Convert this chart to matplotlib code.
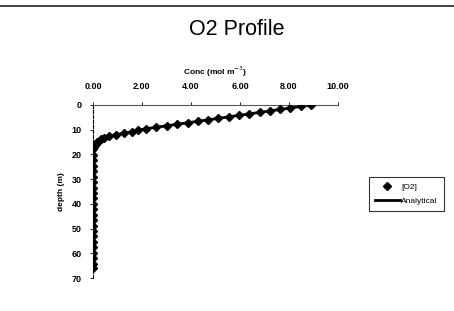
import matplotlib
matplotlib.use("Agg")
import matplotlib.pyplot as plt

plt.rcParams['font.family'] = ['Liberation Sans', 'DejaVu Sans']

# Observed [O2] profile (depth in m, concentration in mol m^-3)
depth = [0.0, 0.6, 1.2, 1.8, 2.4, 3.0, 3.6, 4.2, 4.8, 5.4, 6.0, 6.6, 7.2, 7.8,
         8.4, 9.0, 9.6, 10.2, 10.8, 11.4, 12.0, 12.6, 13.2, 13.8, 14.4, 15.0,
         15.6, 16.2, 16.8, 17.4, 18.0, 20.2, 22.4, 24.6, 26.8, 29.0, 31.2,
         33.4, 35.6, 37.8, 40.0, 42.2, 44.4, 46.6, 48.8, 51.0, 53.2, 55.4,
         57.6, 59.8, 62.0, 64.2, 66.0]
conc = [8.90, 8.48, 8.06, 7.64, 7.22, 6.80, 6.38, 5.96, 5.54, 5.12, 4.70, 4.28,
        3.86, 3.44, 3.02, 2.58, 2.18, 1.84, 1.60, 1.28, 0.94, 0.66, 0.44, 0.32,
        0.24, 0.18, 0.13, 0.08, 0.05, 0.02, 0.01, 0.0, 0.0, 0.0, 0.0, 0.0, 0.0,
        0.0, 0.0, 0.0, 0.0, 0.0, 0.0, 0.0, 0.0, 0.0, 0.0, 0.0, 0.0, 0.0,
        0.0, 0.0, 0.0]

xticks = [0, 2, 4, 6, 8, 10]
xticklabels = ["0.00", "2.00", "4.00", "6.00", "8.00", "10.00"]
yticks = [0, 10, 20, 30, 40, 50, 60, 70]

fig = plt.figure(figsize=(4.54, 3.11), dpi=100)
fig.patch.set_facecolor('white')

# frame remnant of the chart area
fig.add_artist(plt.Line2D([0.0, 1.0], [0.982, 0.982], color='#222222', lw=1.2,
                          transform=fig.transFigure))

ax = fig.add_axes([0.2048, 0.1061, 0.5397, 0.5563])
ax.plot(conc, depth, color='black', lw=2.0, label='Analytical', zorder=2)
ax.plot(conc, depth, linestyle='none', marker='D', markersize=4.0,
        color='black', label='[O2]', zorder=3)

ax.set_xlim(0, 10)
ax.set_ylim(70, 0)
ax.xaxis.tick_top()
ax.xaxis.set_label_position('top')
ax.set_xticks(xticks)
ax.set_xticklabels(xticklabels)
ax.set_yticks(yticks)
ax.tick_params(axis='both', labelsize=6.5, length=2, width=0.6)
ax.tick_params(axis='x', pad=8)
ax.tick_params(axis='y', pad=6)
for lab in ax.get_xticklabels() + ax.get_yticklabels():
    lab.set_fontweight('bold')
ax.spines['right'].set_visible(False)
ax.spines['bottom'].set_visible(False)
ax.spines['top'].set_color('#555555')
ax.spines['top'].set_linewidth(0.8)
ax.spines['left'].set_linestyle((0, (3, 1.5)))
ax.spines['left'].set_linewidth(0.8)
ax.set_xlabel('Conc (mol m$^{-3}$)', fontsize=6.0, fontweight='bold', labelpad=5)
ax.set_ylabel('depth (m)', fontsize=6.0, fontweight='bold', labelpad=5)

fig.text(0.522, 0.904, 'O2 Profile', ha='center', va='center', fontsize=15.5)

handles, labels = ax.get_legend_handles_labels()
leg = fig.legend(handles[::-1], labels[::-1], loc='center',
                 bbox_to_anchor=(0.895, 0.376), fontsize=6.0, frameon=True,
                 fancybox=False, edgecolor='black', handlelength=3.0,
                 handletextpad=0.2, borderpad=0.7, labelspacing=0.8)
leg.get_frame().set_linewidth(0.8)

fig.savefig('out.png', dpi=100)
